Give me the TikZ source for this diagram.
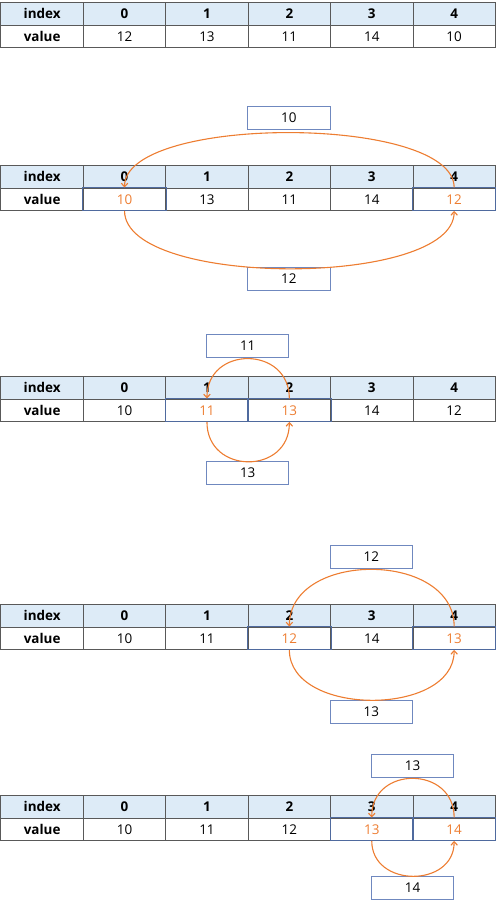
\documentclass[tikz,border=0pt]{standalone}
\usepackage{fontspec}
\setmainfont{Open Sans}
\usetikzlibrary{arrows.meta}
\definecolor{hdrfill}{HTML}{DDEBF7}
\definecolor{gridc}{HTML}{595959}
\definecolor{hlblue}{HTML}{4F6A9E}
\definecolor{boxblue}{HTML}{6F88BF}
\definecolor{orng}{HTML}{ED7D31}
\newcommand{\cellfont}{\fontsize{13.5}{15}\selectfont}
\tikzset{
  cell/.style={draw=gridc, line width=0.9bp, minimum width=82.4bp, minimum height=22.5bp,
    inner sep=0pt, anchor=north west, font=\cellfont},
  hcell/.style={cell, fill=hdrfill, font=\cellfont\bfseries},
  lcell/.style={cell, font=\cellfont\bfseries},
  vcell/.style={cell},
  hlframe/.style={draw=hlblue, line width=0.9bp},
  valbox/.style={draw=boxblue, line width=0.9bp, minimum width=82.4bp, minimum height=23bp,
    inner sep=0pt, font=\cellfont},
  swaparc/.style={draw=orng, line width=1.1bp, -{Straight Barb[length=3.5bp,width=6.5bp]}},
}
\newcommand{\swtable}[3]{%
  \node[hcell] (#1hl) at (0.5,{#2}) {index};
  \node[lcell] (#1vl) at (0.5,{#2+22.5}) {value};
  \foreach \v/\c [count=\i from 0] in {#3} {
    \node[hcell] (#1h\i) at ({0.5+82.4*(\i+1)},{#2}) {\i};
    \node[vcell, text=\c] (#1v\i) at ({0.5+82.4*(\i+1)},{#2+22.5}) {\v};
  }%
}
\begin{document}
\begin{tikzpicture}[x=1bp, y=-1bp]
\useasboundingbox (0,0) rectangle (496,905);

% table 1
\swtable{ta}{2}{12/black,13/black,11/black,14/black,10/black}

% table 2
\swtable{tb}{165}{10/orng,13/black,11/black,14/black,12/orng}
\draw[hlframe] (tbv0.north west) rectangle (tbv0.south east);
\draw[hlframe] (tbv4.north west) rectangle (tbv4.south east);
\node[valbox] (tbtop) at (288.9,117.5) {10};
\node[valbox] (tbbot) at (288.9,279) {12};
\draw[swaparc] (tbv4.north) .. controls +(0,-73) and +(0,-73) .. (tbv0.north);
\draw[swaparc] (tbv0.south) .. controls +(0,77) and +(0,77) .. (tbv4.south);

% table 3
\swtable{tc}{376}{10/black,11/orng,13/orng,14/black,12/black}
\draw[hlframe] (tcv1.north west) rectangle (tcv1.south east);
\draw[hlframe] (tcv2.north west) rectangle (tcv2.south east);
\node[valbox] (tctop) at (247.7,345.5) {11};
\node[valbox] (tcbot) at (247.7,473) {13};
\draw[swaparc] (tcv2.north) .. controls +(0,-53) and +(0,-53) .. (tcv1.north);
\draw[swaparc] (tcv1.south) .. controls +(0,53) and +(0,53) .. (tcv2.south);

% table 4
\swtable{td}{604}{10/black,11/black,12/orng,14/black,13/orng}
\draw[hlframe] (tdv2.north west) rectangle (tdv2.south east);
\draw[hlframe] (tdv4.north west) rectangle (tdv4.south east);
\node[valbox] (tdtop) at (371.3,556.5) {12};
\node[valbox] (tdbot) at (371.3,712) {13};
\draw[swaparc] (tdv4.north) .. controls +(0,-76) and +(0,-76) .. (tdv2.north);
\draw[swaparc] (tdv2.south) .. controls +(0,67) and +(0,67) .. (tdv4.south);

% table 5
\swtable{te}{795}{10/black,11/black,12/black,13/orng,14/orng}
\draw[hlframe] (tev3.north west) rectangle (tev3.south east);
\draw[hlframe] (tev4.north west) rectangle (tev4.south east);
\node[valbox] (tetop) at (412.5,765.5) {13};
\node[valbox] (tebot) at (412.5,887.5) {14};
\draw[swaparc] (tev4.north) .. controls +(0,-52) and +(0,-52) .. (tev3.north);
\draw[swaparc] (tev3.south) .. controls +(0,47) and +(0,47) .. (tev4.south);
\end{tikzpicture}
\end{document}
